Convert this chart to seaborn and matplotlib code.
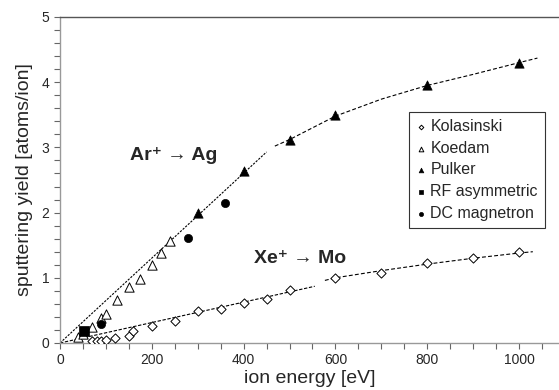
import numpy as np
import pandas as pd
import matplotlib
matplotlib.use("Agg")
import matplotlib.pyplot as plt
import seaborn as sns
from matplotlib.ticker import MultipleLocator

# measured sputtering yields [atoms/ion] vs ion energy [eV]
kolasinski_e = [70, 80, 90, 100, 120, 150, 160, 200, 250, 300, 350, 400, 450, 500, 600, 700, 800, 900, 1000]
kolasinski_y = [0.03, 0.03, 0.03, 0.05, 0.07, 0.11, 0.19, 0.26, 0.33, 0.49, 0.52, 0.62, 0.67, 0.81, 1.00, 1.08, 1.22, 1.31, 1.40]

koedam_e = [40, 51, 70, 89, 100, 125, 150, 175, 200, 220, 240]
koedam_y = [0.09, 0.14, 0.24, 0.38, 0.44, 0.66, 0.86, 0.98, 1.19, 1.38, 1.56]

pulker_e = [300, 400, 500, 600, 800, 1000]
pulker_y = [2.00, 2.64, 3.12, 3.50, 3.95, 4.30]

rf_e = [52]
rf_y = [0.19]

dc_e = [89, 278, 359]
dc_y = [0.29, 1.61, 2.15]

# fit curves
ar_fit1_e = [0, 450]
ar_fit1_y = [0, 2.93]
ar_fit2_e = [468, 500, 600, 700, 800, 900, 1000, 1040]
ar_fit2_y = [3.02, 3.12, 3.48, 3.74, 3.95, 4.12, 4.30, 4.37]

xe_fit1_e = [0, 555]
xe_fit1_y = [0, 0.87]
xe_fit2_e = [577, 600, 700, 800, 900, 1000, 1030]
xe_fit2_y = [0.96, 1.00, 1.11, 1.21, 1.30, 1.38, 1.40]

sns.set_style("ticks")
plt.rcParams['font.family'] = ['Liberation Sans', 'DejaVu Sans']

fig = plt.figure(figsize=(5.59, 3.90), dpi=100)
ax = fig.add_axes([60 / 559, 1 - 343 / 390, 1 - 60 / 559, (343 - 17) / 390])

# fit lines
sns.lineplot(x=ar_fit1_e, y=ar_fit1_y, ax=ax, color='black', lw=0.8, linestyle=(0, (2, 1.2)))
sns.lineplot(x=ar_fit2_e, y=ar_fit2_y, ax=ax, color='black', lw=0.8, linestyle=(0, (3.5, 2)))
sns.lineplot(x=xe_fit1_e, y=xe_fit1_y, ax=ax, color='black', lw=0.8, linestyle=(0, (3, 1.5)))
sns.lineplot(x=xe_fit2_e, y=xe_fit2_y, ax=ax, color='black', lw=0.8, linestyle=(0, (3.5, 2)))

# data points
sns.scatterplot(x=kolasinski_e, y=kolasinski_y, ax=ax, marker='D', s=22,
                facecolor='white', edgecolor='black', linewidth=0.7, label='Kolasinski', zorder=3)
sns.scatterplot(x=koedam_e, y=koedam_y, ax=ax, marker='^', s=45,
                facecolor='white', edgecolor='black', linewidth=0.7, label='Koedam', zorder=3)
sns.scatterplot(x=pulker_e, y=pulker_y, ax=ax, marker='^', s=45,
                color='black', edgecolor='black', linewidth=0.5, label='Pulker', zorder=3)
sns.scatterplot(x=rf_e, y=rf_y, ax=ax, marker='s', s=45,
                color='black', edgecolor='black', linewidth=0.5, label='RF asymmetric', zorder=4)
sns.scatterplot(x=dc_e, y=dc_y, ax=ax, marker='o', s=35,
                color='black', edgecolor='black', linewidth=0.5, label='DC magnetron', zorder=4)

ax.set_xlim(0, 1087)
ax.set_ylim(0, 5)
ax.xaxis.set_major_locator(MultipleLocator(200))
ax.xaxis.set_minor_locator(MultipleLocator(50))
ax.yaxis.set_major_locator(MultipleLocator(1))
ax.yaxis.set_minor_locator(MultipleLocator(0.2))
ax.tick_params(which='both', direction='out', length=4, width=0.8, color='#666666', labelsize=10)

for side in ['left', 'bottom']:
    ax.spines[side].set_color('#999999')
    ax.spines[side].set_linewidth(1.0)
ax.spines['top'].set_color('#555555')
ax.spines['top'].set_linewidth(1.0)
ax.spines['right'].set_visible(False)

ax.set_xlabel('ion energy [eV]', fontsize=14, labelpad=2)
ax.set_ylabel('sputtering yield [atoms/ion]', fontsize=14, labelpad=6)

ax.text(248, 2.88, 'Ar\u207a \u2192 Ag', fontsize=14, fontweight='bold', ha='center', va='center')
ax.text(523, 1.30, 'Xe\u207a \u2192 Mo', fontsize=14, fontweight='bold', ha='center', va='center')

leg = ax.legend(loc='upper left', bbox_to_anchor=(0.699, 0.709), borderaxespad=0, fontsize=11.5,
                markerscale=0.5, handlelength=0.6, handletextpad=0.3, labelspacing=0.42,
                borderpad=0.45, fancybox=False, framealpha=1, edgecolor='#333333')
leg.get_frame().set_linewidth(0.8)

fig.savefig('out.png', dpi=100)
